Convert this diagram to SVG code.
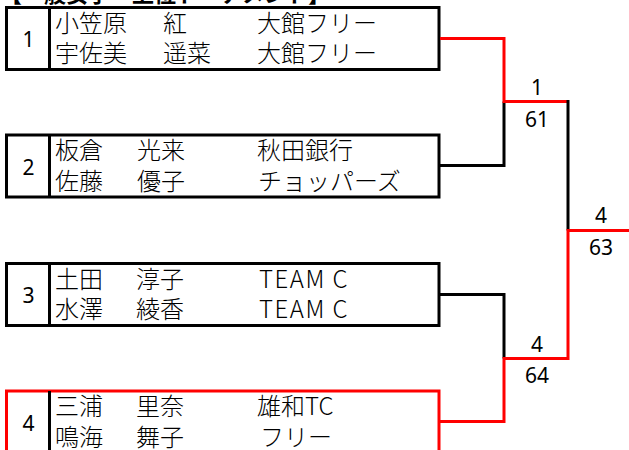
<svg xmlns="http://www.w3.org/2000/svg" width="629" height="450" viewBox="0 0 629 450">
<style>
.box{fill:#fff;stroke:#000;stroke-width:3}
.win{stroke:#ff0000}
.div{stroke:#000;stroke-width:3}
.t{font-family:"Noto Sans CJK JP","Noto Sans",sans-serif;font-size:24px;font-weight:300;fill:#000}
.lat{letter-spacing:1.5px}
.n{font-family:"Noto Sans","Liberation Sans",sans-serif;font-size:21px;fill:#000;text-anchor:middle}
.title{font-family:"Noto Sans CJK JP",sans-serif;font-size:22px;font-weight:bold;fill:#000}
.ln{fill:none;stroke:#000;stroke-width:3}
.red{stroke:#ff0000}
</style>
<rect width="629" height="450" fill="#fff"/>
<text class="title" x="0" y="2">【一般女子　上位トーナメント】</text>
<g id="node1">
<rect class="box" x="6.5" y="7.5" width="432.5" height="62"/>
<line class="div" x1="49.5" y1="7.5" x2="49.5" y2="69.5"/>
<text class="n" x="28.5" y="47">1</text>
<text class="t" x="55" y="31.5">小笠原</text><text class="t" x="163" y="31.5">紅</text><text class="t" x="257" y="31.5">大館フリー</text>
<text class="t" x="55" y="62">宇佐美</text><text class="t" x="163" y="62">遥菜</text><text class="t" x="257" y="62">大館フリー</text>
</g>
<g id="node2">
<rect class="box" x="6.5" y="135" width="432.5" height="62"/>
<line class="div" x1="49.5" y1="135" x2="49.5" y2="197"/>
<text class="n" x="28.5" y="174.5">2</text>
<text class="t" x="55" y="159">板倉</text><text class="t" x="137" y="159">光来</text><text class="t" x="257" y="159">秋田銀行</text>
<text class="t" x="55" y="189.5">佐藤</text><text class="t" x="137" y="189.5">優子</text><text class="t" x="258" y="189.5">チョッパーズ</text>
</g>
<g id="node3">
<rect class="box" x="6.5" y="263.5" width="432.5" height="62"/>
<line class="div" x1="49.5" y1="263.5" x2="49.5" y2="325.5"/>
<text class="n" x="28.5" y="303">3</text>
<text class="t" x="55" y="287.5">土田</text><text class="t" x="136" y="287.5">淳子</text><text class="t lat" x="259" y="287.5">TEAM C</text>
<text class="t" x="55" y="318">水澤</text><text class="t" x="136" y="318">綾香</text><text class="t lat" x="259" y="318">TEAM C</text>
</g>
<g id="node4">
<rect class="box win" x="6.5" y="391" width="432.5" height="62"/>
<line class="div" x1="49.5" y1="391" x2="49.5" y2="453"/>
<text class="n" x="28.5" y="430.5">4</text>
<text class="t" x="55" y="415">三浦</text><text class="t" x="136" y="415">里奈</text><text class="t" x="257" y="415">雄和TC</text>
<text class="t" x="55" y="445.5">鳴海</text><text class="t" x="136" y="445.5">舞子</text><text class="t" x="260" y="445.5">フリー</text>
</g>
<g id="connectors">
<polyline class="ln" points="440,165.5 504,165.5 504,101.5"/>
<polyline class="ln red" points="440,38.5 504,38.5 504,101.5 568,101.5"/>
<line class="ln" x1="568" y1="100" x2="568" y2="230.5"/>
<polyline class="ln" points="440,294.5 504,294.5 504,358.5"/>
<polyline class="ln red" points="440,421.5 504,421.5 504,358.5 568,358.5 568,230.5 629,230.5"/>
<text class="n" x="537" y="95">1</text>
<text class="n" x="537" y="127">61</text>
<text class="n" x="537" y="352">4</text>
<text class="n" x="537" y="383">64</text>
<text class="n" x="601" y="223">4</text>
<text class="n" x="601" y="255">63</text>
</g>
</svg>
